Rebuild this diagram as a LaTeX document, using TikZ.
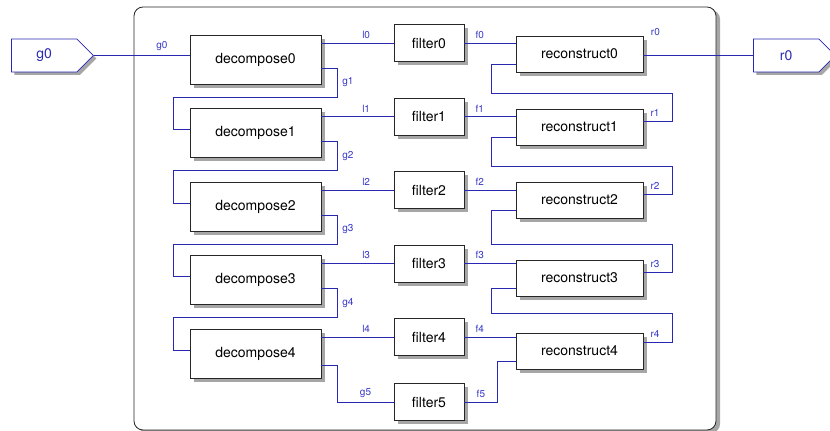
\documentclass[tikz,border=0pt]{standalone}
\usepackage{fontspec}
\setmainfont{TeX Gyre Heros}
\usetikzlibrary{shapes,arrows,shadows}

\definecolor{wireblue}{RGB}{40,40,180}
\definecolor{labelblue}{RGB}{55,55,200}

\begin{document}
\begin{tikzpicture}[x=1pt,y=1pt,node distance=73.5pt,line width=0.8pt]
\tikzstyle{shade}=[drop shadow={shadow xshift=4pt,shadow yshift=-4pt,fill=black!35,opacity=1}]
\tikzstyle{block}=[draw=black!85,fill=white,shade,font=\fontsize{14}{16}\selectfont]
\tikzstyle{decomp}=[block,minimum width=131pt,minimum height=49pt]
\tikzstyle{filt}=[block,minimum width=70pt,minimum height=37pt]
\tikzstyle{recon}=[block,minimum width=127pt,minimum height=36pt]
\tikzstyle{port}=[signal,signal to=east,signal pointer angle=90,draw=wireblue,fill=white,text=wireblue,
  text width=58pt,align=center,inner xsep=3.5pt,
  minimum width=82pt,minimum height=33pt,anchor=west,font=\fontsize{14}{16}\selectfont,
  drop shadow={shadow xshift=3pt,shadow yshift=-3pt,fill=black!35,opacity=1}]
\tikzstyle{frame}=[draw=black!85,fill=white,rounded corners=9pt,minimum width=582pt,minimum height=423pt,
  drop shadow={shadow xshift=4pt,shadow yshift=-3pt,fill=black!35,opacity=1}]
\tikzstyle{wire}=[draw=wireblue]
\tikzstyle{lbl}=[text=labelblue,font=\fontsize{10}{12}\selectfont,inner sep=1.5pt]

\useasboundingbox (0,0) rectangle (830,431);
\node[frame] (frame) at (425,212.5) {};

\node[port] (g0port) at (11,375.5) {g0};
\node[port] (r0port) at (753,375.5) {r0};

\node[decomp] (decompose0) at (255.5,371.5) {decompose0};
\node[decomp][below of=decompose0] (decompose1) {decompose1};
\node[decomp][below of=decompose1] (decompose2) {decompose2};
\node[decomp][below of=decompose2] (decompose3) {decompose3};
\node[decomp][below of=decompose3] (decompose4) {decompose4};

\node[filt] (filter0) at (429,388) {filter0};
\node[filt][below of=filter0] (filter1) {filter1};
\node[filt][below of=filter1] (filter2) {filter2};
\node[filt][below of=filter2] (filter3) {filter3};
\node[filt][below of=filter3] (filter4) {filter4};
\node[filt][below of=filter4,node distance=65pt] (filter5) {filter5};

\node[recon] (reconstruct0) at (579.5,377) {reconstruct0};
\node[recon][below of=reconstruct0,node distance=73pt] (reconstruct1) {reconstruct1};
\node[recon][below of=reconstruct1,node distance=73pt] (reconstruct2) {reconstruct2};
\node[recon][below of=reconstruct2,node distance=78pt] (reconstruct3) {reconstruct3};
\node[recon][below of=reconstruct3,node distance=73pt] (reconstruct4) {reconstruct4};

% input and output
\draw[wire] (g0port.east) -- node[lbl,above=2.5pt,pos=.71]{g0} (g0port.east -| decompose0.west);
\draw[wire] (reconstruct0.east |- r0port.west) -- (r0port.west);
\node[lbl] (r0lbl) at ([xshift=12pt,yshift=4pt]reconstruct0.north east) {r0};

% low pass to the filters
\draw[wire] ([yshift=16.5pt]decompose0.east) -- node[lbl,above=2.5pt,pos=.62]{l0} (filter0.west);
\draw[wire] ([yshift=16.5pt]decompose1.east) -- node[lbl,above=2.5pt,pos=.62]{l1} (filter1.west);
\draw[wire] ([yshift=16.5pt]decompose2.east) -- node[lbl,above=2.5pt,pos=.62]{l2} (filter2.west);
\draw[wire] ([yshift=16.5pt]decompose3.east) -- node[lbl,above=2.5pt,pos=.62]{l3} (filter3.west);
\draw[wire] ([yshift=16.5pt]decompose4.east) -- node[lbl,above=2.5pt,pos=.62]{l4} (filter4.west);

% decomposition chain
\draw[wire] ([yshift=-8.5pt]decompose0.east) -- ++(16,0) -- node[lbl,right=3pt]{g1} ++(0,-29)
  -| ([xshift=-16pt,yshift=3.5pt]decompose1.west) -- ([yshift=3.5pt]decompose1.west);
\draw[wire] ([yshift=-8.5pt]decompose1.east) -- ++(16,0) -- node[lbl,right=3pt]{g2} ++(0,-29)
  -| ([xshift=-16pt,yshift=3.5pt]decompose2.west) -- ([yshift=3.5pt]decompose2.west);
\draw[wire] ([yshift=-8.5pt]decompose2.east) -- ++(16,0) -- node[lbl,right=3pt]{g3} ++(0,-29)
  -| ([xshift=-16pt,yshift=3.5pt]decompose3.west) -- ([yshift=3.5pt]decompose3.west);
\draw[wire] ([yshift=-8.5pt]decompose3.east) -- ++(16,0) -- node[lbl,right=3pt]{g4} ++(0,-29)
  -| ([xshift=-16pt,yshift=3.5pt]decompose4.west) -- ([yshift=3.5pt]decompose4.west);
\draw[wire] ([yshift=-12pt]decompose4.east) -- ++(16,0) |- node[lbl,above=2.5pt,pos=.75]{g5} (filter5.west);

% filtered signals
\draw[wire] (filter0.east) -- node[lbl,above=2.5pt,pos=.3]{f0} (filter0.east -| reconstruct0.west);
\draw[wire] (filter1.east) -- node[lbl,above=2.5pt,pos=.3]{f1} (filter1.east -| reconstruct1.west);
\draw[wire] (filter2.east) -- node[lbl,above=2.5pt,pos=.3]{f2} (filter2.east -| reconstruct2.west);
\draw[wire] (filter3.east) -- node[lbl,above=2.5pt,pos=.3]{f3} (filter3.east -| reconstruct3.west);
\draw[wire] (filter4.east) -- node[lbl,above=2.5pt,pos=.3]{f4} (filter4.east -| reconstruct4.west);
\draw[wire] (filter5.east) -- node[lbl,above=2.5pt]{f5} ++(33,0) |- ([yshift=-10pt]reconstruct4.west);

% reconstruction chain
\draw[wire] ([yshift=6pt]reconstruct1.east) -- node[lbl,above=2.5pt,pos=.4]{r1} ++(29,0) -- ++(0,28)
  -| ([xshift=-24pt,yshift=-10pt]reconstruct0.west) -- ([yshift=-10pt]reconstruct0.west);
\draw[wire] ([yshift=6pt]reconstruct2.east) -- node[lbl,above=2.5pt,pos=.4]{r2} ++(29,0) -- ++(0,28)
  -| ([xshift=-24pt,yshift=-10pt]reconstruct1.west) -- ([yshift=-10pt]reconstruct1.west);
\draw[wire] ([yshift=6pt]reconstruct3.east) -- node[lbl,above=2.5pt,pos=.4]{r3} ++(29,0) -- ++(0,28)
  -| ([xshift=-24pt,yshift=-10pt]reconstruct2.west) -- ([yshift=-10pt]reconstruct2.west);
\draw[wire] ([yshift=9pt]reconstruct4.east) -- node[lbl,above=2.5pt,pos=.4]{r4} ++(29,0) -- ++(0,29)
  -| ([xshift=-24pt,yshift=-10pt]reconstruct3.west) -- ([yshift=-10pt]reconstruct3.west);
\end{tikzpicture}
\end{document}
